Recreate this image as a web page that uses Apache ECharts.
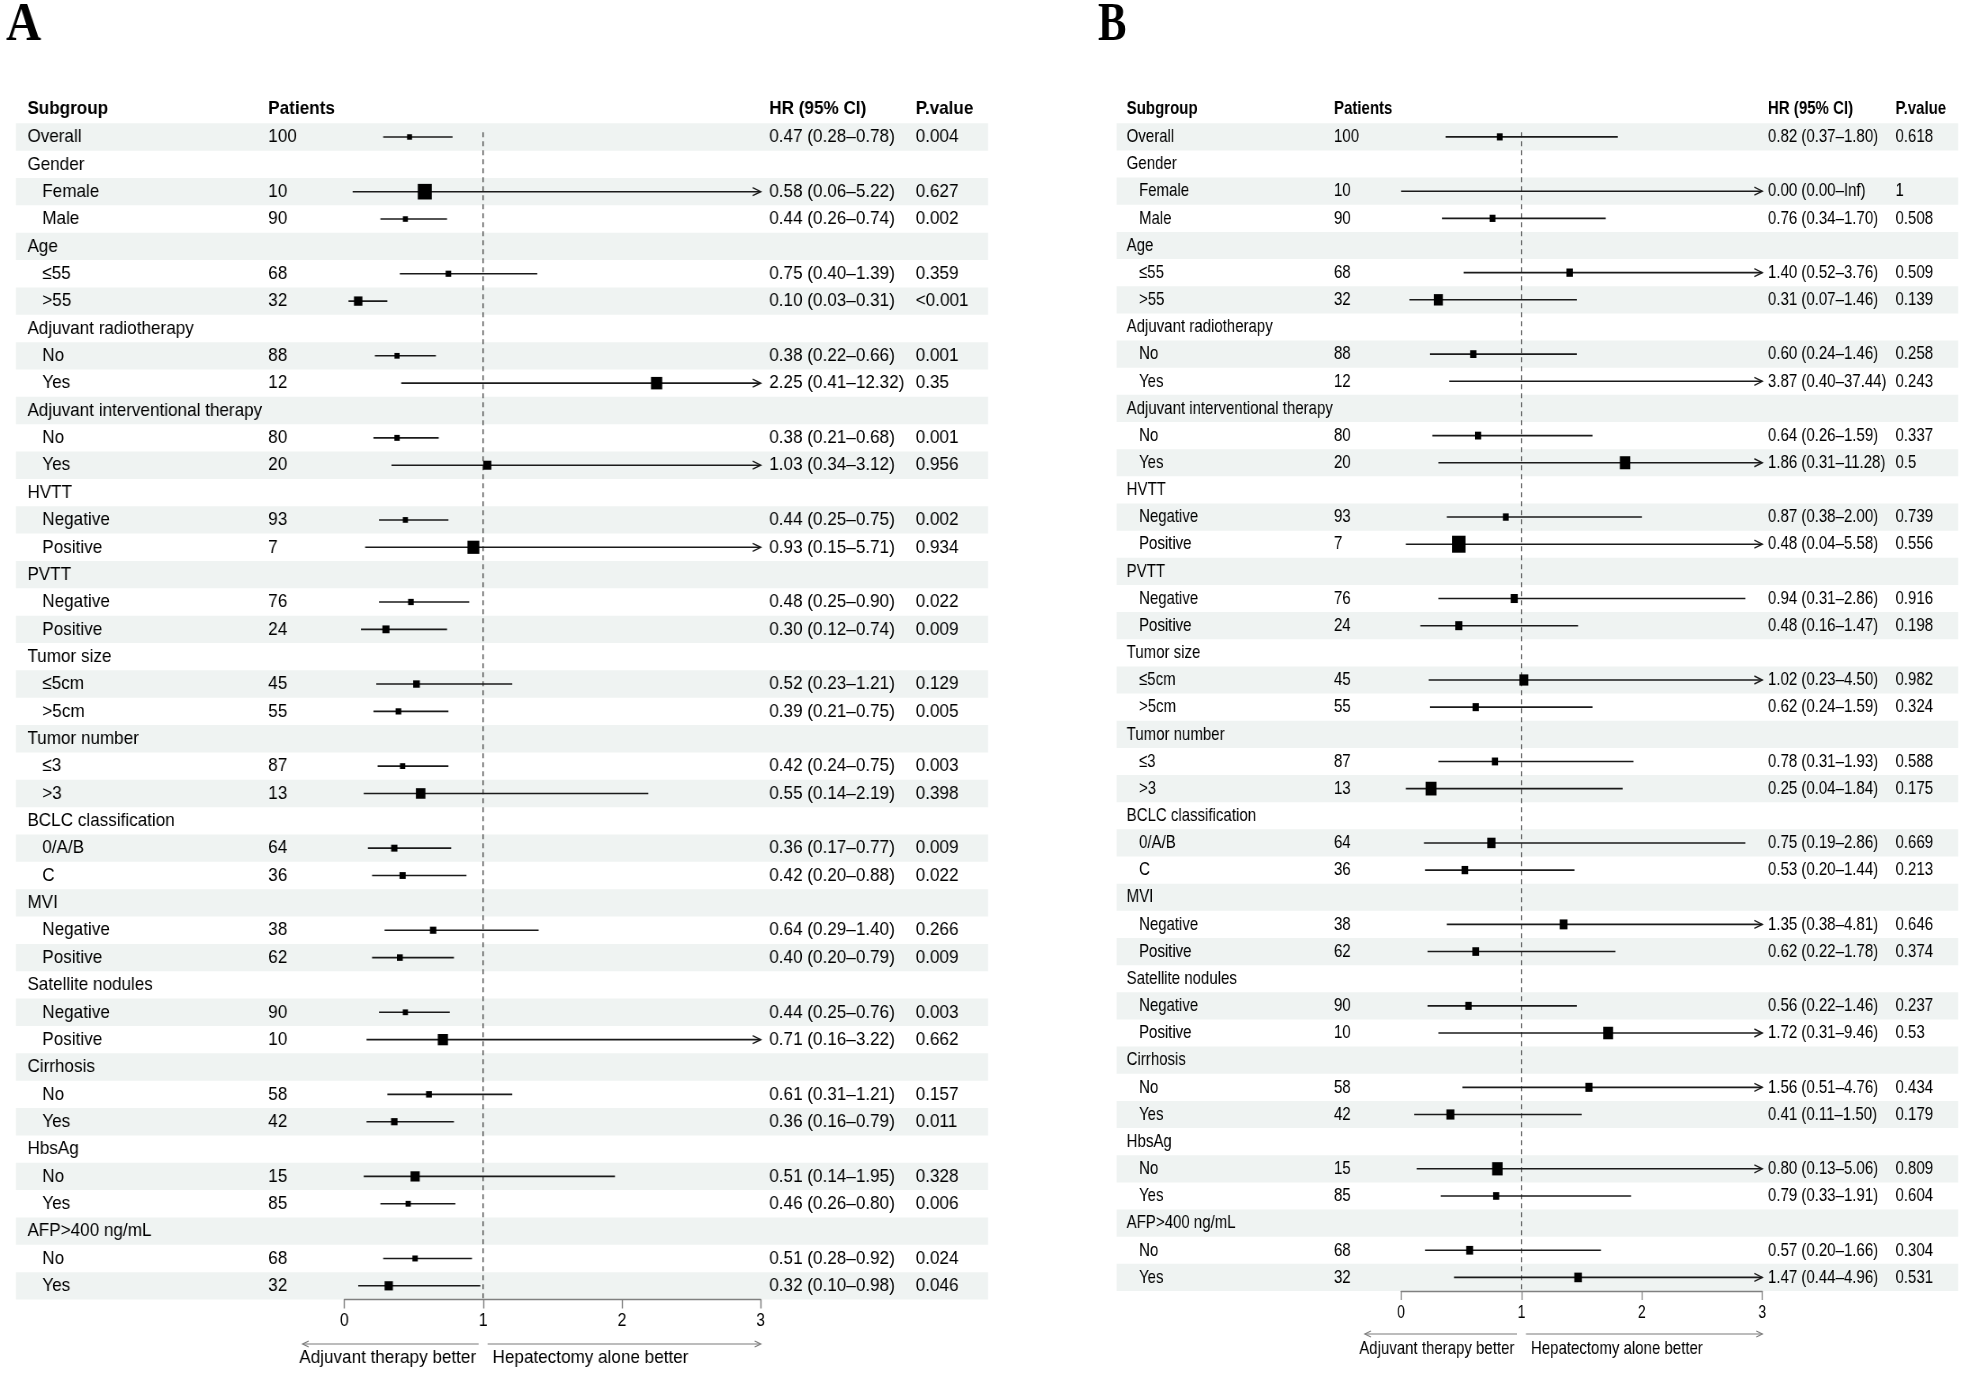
<!DOCTYPE html>
<html><head><meta charset="utf-8">
<script src="https://cdn.jsdelivr.net/npm/echarts@6/dist/echarts.min.js"></script>
<style>
html,body{margin:0;padding:0;background:#fff;overflow:hidden;width:1971px;height:1373px}
.panel{position:absolute;top:0;height:1373px;transform-origin:0 0}
</style>
</head><body>
<div id="pa" class="panel"></div>
<div id="pb" class="panel"></div>
<script>
// ---------------- DATA ----------------
const subgroups = ['Overall','Gender','Female','Male','Age','≤55','>55','Adjuvant radiotherapy','No','Yes',
  'Adjuvant interventional therapy','No','Yes','HVTT','Negative','Positive','PVTT','Negative','Positive',
  'Tumor size','≤5cm','>5cm','Tumor number','≤3','>3','BCLC classification','0/A/B','C','MVI','Negative','Positive',
  'Satellite nodules','Negative','Positive','Cirrhosis','No','Yes','HbsAg','No','Yes','AFP>400 ng/mL','No','Yes'];
const patients = [100,null,10,90,null,68,32,null,88,12,null,80,20,null,93,7,null,76,24,null,45,55,null,87,13,null,64,36,null,38,62,null,90,10,null,58,42,null,15,85,null,68,32];

const hrA = [0.47,null,0.58,0.44,null,0.75,0.10,null,0.38,2.25,null,0.38,1.03,null,0.44,0.93,null,0.48,0.30,null,0.52,0.39,null,0.42,0.55,null,0.36,0.42,null,0.64,0.40,null,0.44,0.71,null,0.61,0.36,null,0.51,0.46,null,0.51,0.32];
const loA = [0.28,null,0.06,0.26,null,0.40,0.03,null,0.22,0.41,null,0.21,0.34,null,0.25,0.15,null,0.25,0.12,null,0.23,0.21,null,0.24,0.14,null,0.17,0.20,null,0.29,0.20,null,0.25,0.16,null,0.31,0.16,null,0.14,0.26,null,0.28,0.10];
const hiA = [0.78,null,5.22,0.74,null,1.39,0.31,null,0.66,12.32,null,0.68,3.12,null,0.75,5.71,null,0.90,0.74,null,1.21,0.75,null,0.75,2.19,null,0.77,0.88,null,1.40,0.79,null,0.76,3.22,null,1.21,0.79,null,1.95,0.80,null,0.92,0.98];
const pA = ['0.004',null,'0.627','0.002',null,'0.359','<0.001',null,'0.001','0.35',null,'0.001','0.956',null,'0.002','0.934',null,'0.022','0.009',null,'0.129','0.005',null,'0.003','0.398',null,'0.009','0.022',null,'0.266','0.009',null,'0.003','0.662',null,'0.157','0.011',null,'0.328','0.006',null,'0.024','0.046'];

const hrB = [0.82,null,0.00,0.76,null,1.40,0.31,null,0.60,3.87,null,0.64,1.86,null,0.87,0.48,null,0.94,0.48,null,1.02,0.62,null,0.78,0.25,null,0.75,0.53,null,1.35,0.62,null,0.56,1.72,null,1.56,0.41,null,0.80,0.79,null,0.57,1.47];
const loB = [0.37,null,0.00,0.34,null,0.52,0.07,null,0.24,0.40,null,0.26,0.31,null,0.38,0.04,null,0.31,0.16,null,0.23,0.24,null,0.31,0.04,null,0.19,0.20,null,0.38,0.22,null,0.22,0.31,null,0.51,0.11,null,0.13,0.33,null,0.20,0.44];
const hiB = [1.80,null,Infinity,1.70,null,3.76,1.46,null,1.46,37.44,null,1.59,11.28,null,2.00,5.58,null,2.86,1.47,null,4.50,1.59,null,1.93,1.84,null,2.86,1.44,null,4.81,1.78,null,1.46,9.46,null,4.76,1.50,null,5.06,1.91,null,1.66,4.96];
const pB = ['0.618',null,'1','0.508',null,'0.509','0.139',null,'0.258','0.243',null,'0.337','0.5',null,'0.739','0.556',null,'0.916','0.198',null,'0.982','0.324',null,'0.588','0.175',null,'0.669','0.213',null,'0.646','0.374',null,'0.237','0.53',null,'0.434','0.179',null,'0.809','0.604',null,'0.304','0.531'];

const xTicks = [0, 1, 2, 3];
const headers = ['Subgroup', 'Patients', 'HR (95% CI)', 'P.value'];
const xlabLeft = 'Adjuvant therapy better';
const xlabRight = 'Hepatectomy alone better';

// ---------------- LAYOUT / STYLE ----------------
// each panel is drawn in its own chart, horizontally condensed (like the reference)
const FN = "'Liberation Sans',Arial,sans-serif";
const SHADE = '#eff3f2';
const LA = {el:'pa', ox:0, w:1050, s:0.9, title:'A', titleX:6, shadeL:16, shadeR:988, top:123.3, bottom:1299.5, axL:344.3, axR:760.7,
  subX:27.4, indX:42.3, patX:268.3, hrX:769.3, pX:915.7, headY:108.5, fs:19, hrFs:19,
  arrowDy:44.5, textDy:58.5, tickFs:17.5};
const LB = {el:'pb', ox:1050, w:921, s:0.79, title:'B', titleX:1098, shadeL:1116.7, shadeR:1958, top:123.3, bottom:1291, axL:1401, axR:1762.3,
  subX:1126.7, indX:1139, patX:1334, hrX:1768, pX:1895.5, headY:108.3, fs:19, hrFs:19,
  arrowDy:43, textDy:58, tickFs:17.5};

const fmt = v => (v === Infinity ? 'Inf' : v.toFixed(2));

function catAxis(gridIndex, data, extra) {
  return Object.assign({type:'category', gridIndex, data, inverse:true, boundaryGap:true,
    axisLine:{show:false}, axisTick:{show:false}, splitLine:{show:false}, z:5}, extra);
}

function buildPanel(L, hr, lo, hi, pv) {
  const s = L.s;
  const X = x => (x - L.ox) / s;   // real page x -> internal chart x
  const D = d => d / s;            // horizontal distance
  const option = {animation:false, backgroundColor:'#fff', grid:[], xAxis:[], yAxis:[], series:[], graphic:[]};
  option.grid.push({left:X(L.shadeL), top:L.top, width:D(L.shadeR-L.shadeL), height:L.bottom-L.top, outerBoundsMode:'none'});
  option.grid.push({left:X(L.axL), top:L.top, width:D(L.axR-L.axL), height:L.bottom-L.top, outerBoundsMode:'none'});
  option.xAxis.push({type:'value', gridIndex:0, min:0, max:1, show:false});
  option.xAxis.push({type:'value', gridIndex:1, min:xTicks[0], max:xTicks[xTicks.length-1], interval:1, z:4,
    axisLine:{show:true, lineStyle:{color:'#808080', width:1.3}},
    axisTick:{show:true, length:9, lineStyle:{color:'#808080', width:1.4}},
    splitLine:{show:false},
    axisLabel:{margin:13, fontSize:L.tickFs, fontFamily:FN, color:'#000'}});
  const base = {interval:0, align:'left', color:'#000', fontFamily:FN};
  const isSub = i => patients[i] != null && i > 0;
  const topLab = subgroups.map((t,i) => isSub(i) ? '' : t);
  const subLab = subgroups.map((t,i) => isSub(i) ? t : '');
  const patLab = patients.map(v => v == null ? '' : String(v));
  const hrLab = hr.map((v,i) => v == null ? '' : fmt(v) + ' (' + fmt(lo[i]) + '–' + fmt(hi[i]) + ')');
  const pLab = pv.map(v => v == null ? '' : v);
  option.yAxis.push(catAxis(0, subgroups.map((_,i)=>i), {show:false}));
  option.yAxis.push(catAxis(1, topLab, {position:'left', axisLabel:Object.assign({}, base, {margin:D(L.axL-L.subX), fontSize:L.fs})}));
  option.yAxis.push(catAxis(1, subLab, {position:'left', axisLabel:Object.assign({}, base, {margin:D(L.axL-L.indX), fontSize:L.fs})}));
  option.yAxis.push(catAxis(1, patLab, {position:'left', axisLabel:Object.assign({}, base, {margin:D(L.axL-L.patX), fontSize:L.fs})}));
  option.yAxis.push(catAxis(1, hrLab, {position:'right', axisLabel:Object.assign({}, base, {margin:D(L.hrX-L.axR), fontSize:L.hrFs})}));
  option.yAxis.push(catAxis(1, pLab, {position:'right', axisLabel:Object.assign({}, base, {margin:D(L.pX-L.axR), fontSize:L.fs})}));

  // alternating row shading
  option.series.push({type:'bar', xAxisIndex:0, yAxisIndex:0, silent:true, z:1,
    barWidth:'100%', itemStyle:{color:SHADE},
    data: subgroups.map((_,i) => i % 2 === 0 ? 1 : '-')});

  const xmin = xTicks[0], xmax = xTicks[xTicks.length-1];
  // reference line + bottom direction arrows
  option.series.push({type:'custom', xAxisIndex:1, yAxisIndex:1, silent:true, z:2,
    data:[[1, 0]], encode:{x:0, y:1},
    renderItem: function(params, api) {
      const cs = params.coordSys;
      const yb = cs.y + cs.height;
      const C = v => api.coord([v, 0])[0];
      const x1 = C(api.value(0));
      const yA = yb + L.arrowDy, yT = yb + L.textDy;
      const xl = C(-0.3), xr = C(xmax);
      const col = '#7a7a7a';
      return {type:'group', children:[
        {type:'line', shape:{x1:x1, y1:cs.y+9, x2:x1, y2:yb}, style:{stroke:'#222', lineWidth:1.1, lineDash:[5,4]}},
        {type:'line', shape:{x1:x1-D(4.5), y1:yA, x2:xl, y2:yA}, style:{stroke:col, lineWidth:1.2}},
        {type:'polyline', shape:{points:[[xl+D(6),yA-3],[xl,yA],[xl+D(6),yA+3]]}, style:{stroke:col, fill:null, lineWidth:1.2}},
        {type:'line', shape:{x1:x1+D(4.5), y1:yA, x2:xr, y2:yA}, style:{stroke:col, lineWidth:1.2}},
        {type:'polyline', shape:{points:[[xr-D(6),yA-3],[xr,yA],[xr-D(6),yA+3]]}, style:{stroke:col, fill:null, lineWidth:1.2}},
        {type:'text', style:{text:xlabLeft, x:x1-D(7), y:yT, align:'right', verticalAlign:'middle', fontSize:L.fs, fontFamily:FN, fill:'#000'}},
        {type:'text', style:{text:xlabRight, x:x1+D(9.5), y:yT, align:'left', verticalAlign:'middle', fontSize:L.fs, fontFamily:FN, fill:'#000'}}
      ]};
    }});

  // CI lines and boxes
  const fdata = [];
  hr.forEach((v,i) => { if (v != null) fdata.push([v, i]); });
  option.series.push({type:'custom', xAxisIndex:1, yAxisIndex:1, silent:true, z:3,
    data:fdata, encode:{x:0, y:1},
    renderItem: function(params, api) {
      const r = api.value(1);
      const y = api.coord([0, r])[1];
      const C = v => api.coord([v, r])[0];
      const a = Math.max(lo[r], xmin), b = Math.min(hi[r], xmax);
      const ch = [{type:'line', shape:{x1:C(a), y1:y, x2:C(b), y2:y}, style:{stroke:'#1a1a1a', lineWidth:1.6}}];
      if (hi[r] > xmax) {
        const xe = C(xmax);
        ch.push({type:'polyline', shape:{points:[[xe-D(8),y-4],[xe,y],[xe-D(8),y+4]]}, style:{stroke:'#1a1a1a', fill:null, lineWidth:1.4}});
      }
      const se = (Math.log(hi[r]) - Math.log(lo[r])) / 3.92;
      const h = hr[r];
      if (isFinite(se) && h >= xmin && h <= xmax) {
        const sz = 2.5 + 11.5 * se;
        ch.push({type:'rect', shape:{x:C(h) - sz/2, y:y - sz/2, width:sz, height:sz}, style:{fill:'#000'}});
      }
      return {type:'group', children:ch};
    }});

  // headers and panel letter
  const hx = [L.subX, L.patX, L.hrX, L.pX];
  headers.forEach((t, j) => option.graphic.push({type:'text', x:X(hx[j]), y:L.headY, z:10,
    style:{text:t, align:'left', verticalAlign:'middle', fontSize:L.fs, fontWeight:'bold', fontFamily:FN, fill:'#000'}}));
  option.graphic.push({type:'text', x:X(L.titleX), y:26, z:10,
    style:{text:L.title, align:'left', verticalAlign:'middle', fontSize:54, fontWeight:'bold', fontFamily:"'Liberation Serif','DejaVu Serif',serif", fill:'#000'}});

  const el = document.getElementById(L.el);
  el.style.left = L.ox + 'px';
  el.style.width = (L.w / s) + 'px';
  el.style.transform = 'scaleX(' + s + ')';
  const chart = echarts.init(el, null, {renderer:'canvas'});
  chart.setOption(option);
  return chart;
}

buildPanel(LA, hrA, loA, hiA, pA);
buildPanel(LB, hrB, loB, hiB, pB);
</script></body></html>
